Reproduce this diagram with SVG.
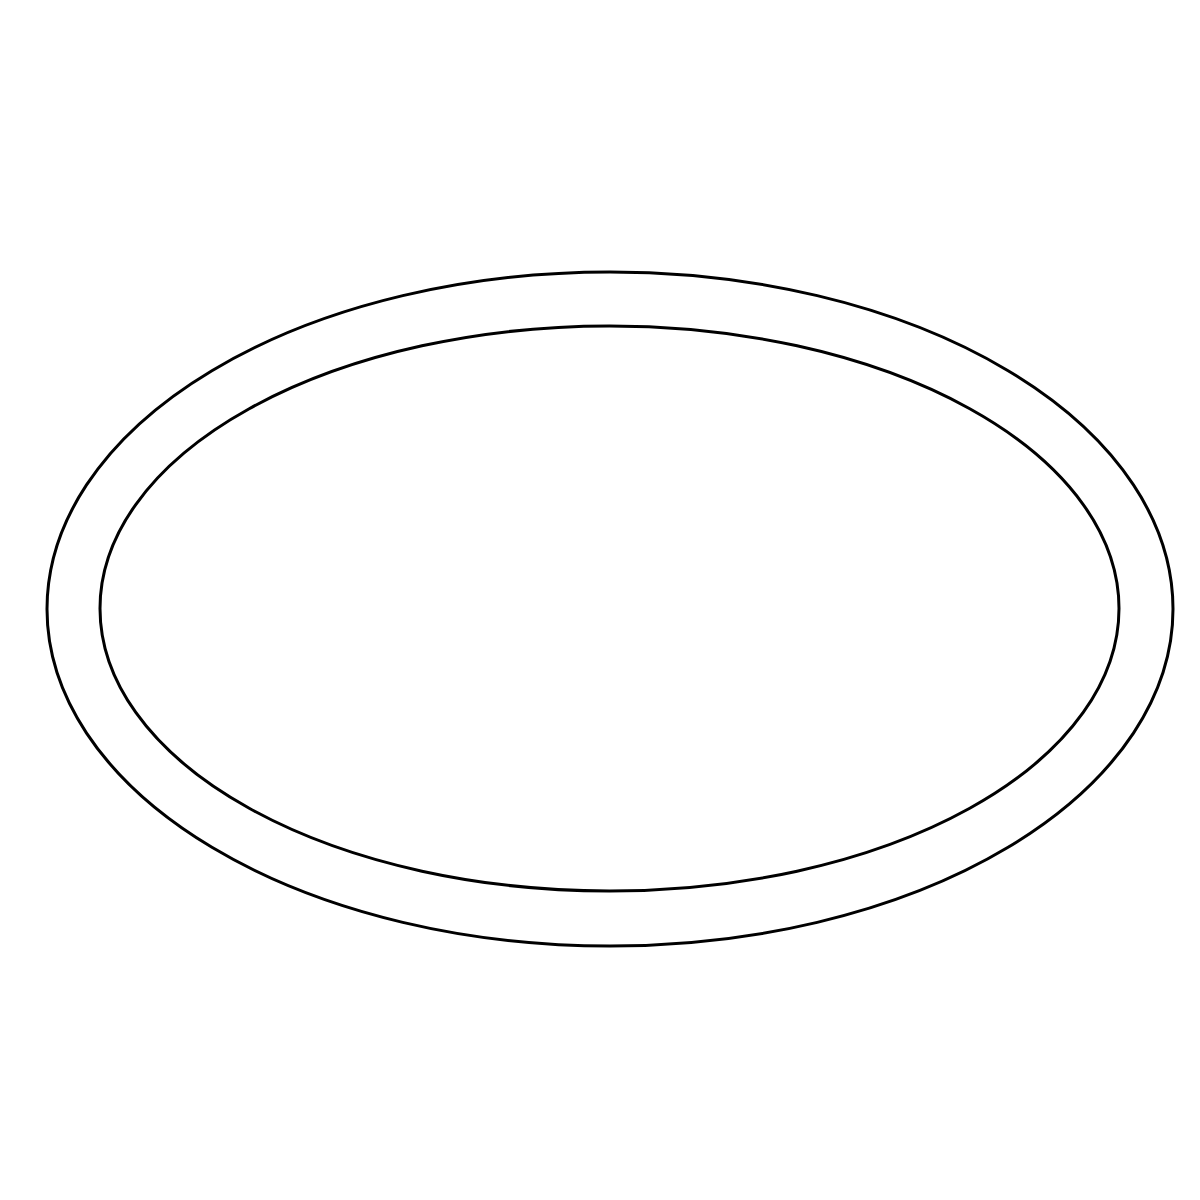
<svg xmlns="http://www.w3.org/2000/svg" width="1200" height="1200" viewBox="0 0 1200 1200">
<style>.ring{fill:none;stroke:#000;stroke-width:3}</style>
<rect width="1200" height="1200" fill="#fff"/>
<g id="outer"><ellipse class="ring" cx="610" cy="609" rx="563" ry="337"/></g>
<g id="inner"><ellipse class="ring" cx="609.5" cy="608.5" rx="509.5" ry="282.5"/></g>
</svg>
